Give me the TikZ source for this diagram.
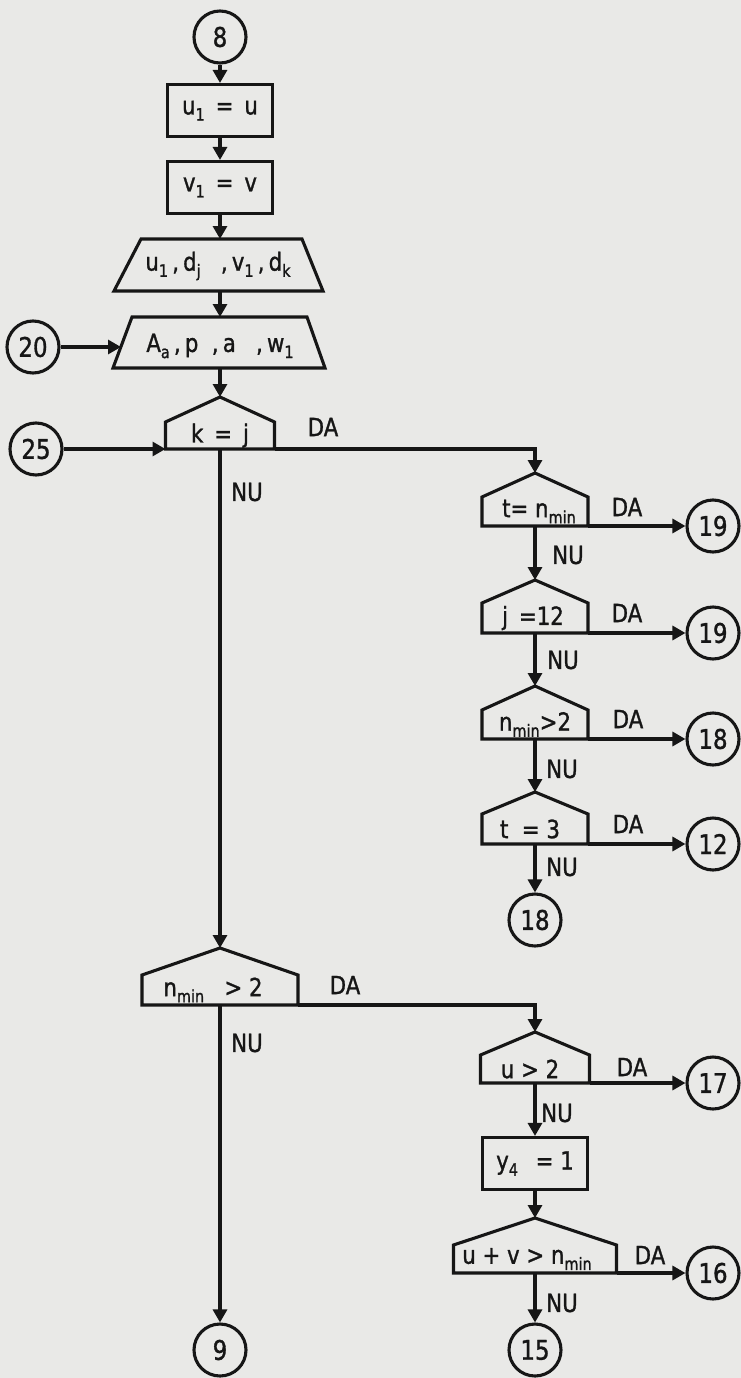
\documentclass[tikz,border=0pt]{standalone}
\usepackage{fontspec}
\setmainfont{DejaVu Sans}[FakeStretch=0.85,FakeBold=1.2]
\usetikzlibrary{arrows.meta,calc}
\definecolor{paper}{RGB}{233,233,231}
\definecolor{ink}{RGB}{22,22,22}
\newcommand\lo[1]{\raisebox{-0.45ex}{\fontsize{17}{18}\selectfont #1}}
% decision "house" shape: name, cx, apex y, half width, roof, side, text, text x shift
\newcommand\decshape[8]{%
  \coordinate (#1-a) at (#2,#3);
  \coordinate (#1-l) at ({#2-#4},{#3+#5+#6});
  \coordinate (#1-r) at ({#2+#4},{#3+#5+#6});
  \coordinate (#1-b) at (#2,{#3+#5+#6});
  \draw[shp] (#1-l) -- ++(0,-#6) -- (#1-a) -- ({#2+#4},{#3+#5}) -- (#1-r) -- cycle;
  \node[txt] (#1) at ({#2+#8},{#3+#5+#6/2}) {#7};
}
\begin{document}
\begin{tikzpicture}[x=1pt,y=-1pt,line width=3.1pt,draw=ink,text=ink,
  txt/.style={font=\fontsize{25}{28}\selectfont,inner sep=0pt},
  lbl/.style={font=\fontsize{25}{28}\selectfont,inner sep=0pt},
  conn/.style={circle,draw,minimum size=52pt,inner sep=0pt,font=\fontsize{27}{30}\selectfont},
  proc/.style={draw,minimum width=105pt,minimum height=52pt,inner sep=0pt,font=\fontsize{25}{28}\selectfont},
  shp/.style={draw,line join=miter},
  arr/.style={-{Triangle[length=13pt,width=14pt]}},
]
\fill[paper] (0,0) rectangle (741,1378);
\useasboundingbox (0,0) rectangle (741,1378);

% main column
\node[conn] (c8) at (220,37) {8};
\node[proc] (b1) at (220,110.5) {u\lo{1} \,=\, u};
\node[proc] (b2) at (220,187.5) {v\lo{1} \,=\, v};

\draw[shp] (141,239) -- (302,239) -- (323,291) -- (114,291) -- cycle;
\coordinate (t1n) at (220,239);
\coordinate (t1s) at (220,291);
\node[txt] (t1) at (218,266) {u\lo{1}\,,\,d\lo{j} \ \ ,\,v\lo{1}\,,\,d\lo{k}};

\draw[shp] (132,317) -- (307,317) -- (325,368) -- (113,368) -- cycle;
\coordinate (t2n) at (220,317);
\coordinate (t2s) at (220,368);
\coordinate (t2w) at (121,347);
\node[txt] (t2) at (220,346) {A\lo{a}\,,\,p\ \ ,\,a\ \ \ ,\,w\lo{1}};

\node[conn] (c20) at (33,347) {20};
\node[conn] (c25) at (36,449) {25};

\decshape{d1}{220}{397}{54.5}{25}{27}{k \,=\, j}{0}
\decshape{d2}{535}{473}{53}{24}{29}{t= n\lo{min}}{4}
\decshape{d3}{535}{580}{53}{23}{30}{j \,=12}{-2}
\decshape{d4}{535}{686}{53}{24}{29}{n\lo{min}>2}{0}
\decshape{d5}{535}{792}{53}{22}{30}{t \ = 3}{-5}
\decshape{d6}{220}{948}{78}{27}{30}{n\lo{min} \ \ > 2}{-7}
\decshape{d7}{535}{1032}{54.5}{23}{28}{u > 2}{-5}
\decshape{d8}{535}{1218}{81.5}{27}{28}{u + v > n\lo{min}}{-8}

\node[proc] (b3) at (535,1163.5) {y\lo{4} \ \,= 1};

\node[conn] (c19a) at (713,526) {19};
\node[conn] (c19b) at (713,633) {19};
\node[conn] (c18a) at (713,739) {18};
\node[conn] (c12)  at (713,844) {12};
\node[conn] (c18b) at (535,920) {18};
\node[conn] (c17)  at (713,1083) {17};
\node[conn] (c16)  at (713,1273) {16};
\node[conn] (c9)   at (220,1350) {9};
\node[conn] (c15)  at (535,1350) {15};

% connectors
\draw[arr] (c8) -- (b1);
\draw[arr] (b1) -- (b2);
\draw[arr] (b2) -- (t1n);
\draw[arr] (t1s) -- (t2n);
\draw[arr] (c20) -- (t2w);
\draw[arr] (t2s) -- (d1-a);
\draw[arr] (c25) -- (d1-l);
\draw[arr] (d1-r) -| (d2-a);
\draw[arr] (d1-b) -- (d6-a);
\draw[arr] (d2-r) -- (c19a);
\draw[arr] (d2-b) -- (d3-a);
\draw[arr] (d3-r) -- (c19b);
\draw[arr] (d3-b) -- (d4-a);
\draw[arr] (d4-r) -- (c18a);
\draw[arr] (d4-b) -- (d5-a);
\draw[arr] (d5-r) -- (c12);
\draw[arr] (d5-b) -- (c18b);
\draw[arr] (d6-r) -| (d7-a);
\draw[arr] (d6-b) -- (c9);
\draw[arr] (d7-r) -- (c17);
\draw[arr] (d7-b) -- (b3);
\draw[arr] (b3) -- (d8-a);
\draw[arr] (d8-r) -- (c16);
\draw[arr] (d8-b) -- (c15);

% labels
\node[lbl] (l1) at (323,427) {DA};
\node[lbl] (l2) at (247,492) {NU};
\node[lbl] (l3) at (627,507) {DA};
\node[lbl] (l4) at (568,555) {NU};
\node[lbl] (l5) at (627,613) {DA};
\node[lbl] (l6) at (563,660) {NU};
\node[lbl] (l7) at (628,719) {DA};
\node[lbl] (l8) at (562,769) {NU};
\node[lbl] (l9) at (628,824) {DA};
\node[lbl] (l10) at (562,867) {NU};
\node[lbl] (l11) at (345,985) {DA};
\node[lbl] (l12) at (247,1043) {NU};
\node[lbl] (l13) at (632,1067) {DA};
\node[lbl] (l14) at (557,1113) {NU};
\node[lbl] (l15) at (650,1255) {DA};
\node[lbl] (l16) at (562,1303) {NU};
\end{tikzpicture}
\end{document}
